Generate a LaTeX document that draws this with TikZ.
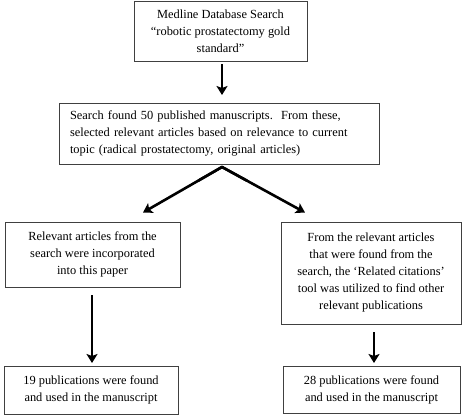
\documentclass[tikz,border=0pt]{standalone}
\usepackage{fontspec}
\setmainfont{Liberation Serif}
\usetikzlibrary{arrows.meta,calc}
\tikzset{
  box/.style={draw=black!75, line width=0.9pt, fill=white, inner sep=0pt,
    font=\fontsize{12.4pt}{17pt}\selectfont, align=center},
  bigarrow/.style={line width=2.6pt, -{Stealth[length=9pt,width=11pt,inset=2pt]}},
}
\begin{document}
\begin{tikzpicture}[x=1pt,y=-1pt]
\useasboundingbox (0,0) rectangle (462,415);
\node[box, minimum width=173pt, minimum height=60pt] (b1) at (220.5,31)
  {Medline Database Search\\“robotic prostatectomy gold\\standard”};
\node[box, minimum width=320pt, minimum height=61pt, text width=298pt, align=left] (b2) at (219,133.5)
  {Search found 50 published manuscripts.\ \ From these,\\selected relevant articles based on relevance to current\\topic (radical prostatectomy, original articles)};
\node[box, minimum width=175pt, minimum height=65pt] (b3) at (92.5,254.5)
  {Relevant articles from the\\search were incorporated\\into this paper};
\node[box, minimum width=180pt, minimum height=102pt] (b4) at (371,273)
  {From the relevant articles\\that were found from the\\search, the ‘Related citations’\\tool was utilized to find other\\relevant publications};
\node[box, minimum width=174pt, minimum height=48pt] (b5) at (91,390)
  {19 publications were found\\and used in the manuscript};
\node[box, minimum width=177pt, minimum height=47pt] (b6) at (371.5,389.5)
  {28 publications were found\\and used in the manuscript};
\coordinate (a1s) at (222,64);
\coordinate (a1e) at (222,95);
\coordinate (apex) at (222,167);
\coordinate (tipL) at (143,212.5);
\coordinate (tipR) at (305,212.5);
\coordinate (a3s) at (92,295);
\coordinate (a3e) at (92,363);
\coordinate (a4s) at (374,332);
\coordinate (a4e) at (374,363);
\draw[bigarrow] (a1s) -- (a1e);
\draw[bigarrow] (apex) -- (tipL);
\draw[bigarrow] (apex) -- (tipR);
\draw[line width=2.6pt, line join=miter] ($(apex)!0.3!(tipL)$) -- (apex) -- ($(apex)!0.3!(tipR)$);
\draw[bigarrow] (a3s) -- (a3e);
\draw[bigarrow] (a4s) -- (a4e);
\end{tikzpicture}
\end{document}
